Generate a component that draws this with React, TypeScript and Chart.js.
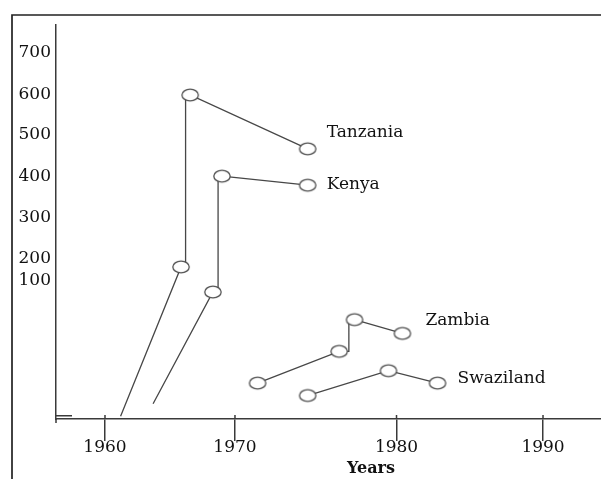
import React, { useEffect, useRef } from 'react';
import { Chart, registerables, LinearScale } from 'chart.js';

// ---------------- data ----------------
const xTickYears = [1960, 1970, 1980, 1990];
const yTickValues = [100, 200, 300, 400, 500, 600, 700];

const seriesNames = ['Tanzania', 'Kenya', 'Zambia', 'Swaziland'];

const tanzaniaYears = [1961.2, 1965.85, 1966.2, 1966.2, 1966.55, 1974.5];
const tanzaniaValues = [2, 164, 164, 600, 600, 467];
const tanzaniaMarkers = [false, true, false, false, true, true];

const kenyaYears = [1963.7, 1968.3, 1968.7, 1968.7, 1969.0, 1974.5];
const kenyaValues = [11, 92, 92, 402, 402, 380];
const kenyaMarkers = [false, true, false, false, true, true];

const zambiaYears = [1971.4, 1976.45, 1977.05, 1977.05, 1977.4, 1980.4];
const zambiaValues = [26, 49, 49, 72, 72, 62];
const zambiaMarkers = [true, true, false, false, true, true];

const swazilandYears = [1974.5, 1979.5, 1982.8];
const swazilandValues = [17, 35, 26];
const swazilandMarkers = [true, true, true];

// ---------------- layout / style ----------------
// piecewise axis mapping: [value, fraction along axis]
const AXIS_BREAKS: Record<string, number[][]> = {
  x: [[1956.23, 0], [1960, 0.0899], [1970, 0.3284], [1980, 0.6248], [1990, 0.8936], [1993.96, 1]],
  y: [[0, 0], [100, 0.3503], [200, 0.4061], [300, 0.5102], [400, 0.6142], [500, 0.7208], [600, 0.8223], [700, 0.9289], [767, 1]],
};
const LABEL_OFFSETS = [[19, -12], [19, 4], [23, -8], [20, 0]];
const FONT_FAMILY = '"DejaVu Serif", "Liberation Serif", serif';
const AXIS_COLOR = '#3a3a3a';
const LINE_COLOR = '#474747';
const TEXT_COLOR = '#111';

function toDecimal(b: number[][], v: number): number {
  let i = 0;
  while (i < b.length - 2 && v > b[i + 1][0]) i++;
  const [v0, f0] = b[i];
  const [v1, f1] = b[i + 1];
  return f0 + ((v - v0) / (v1 - v0)) * (f1 - f0);
}
function fromDecimal(b: number[][], d: number): number {
  let i = 0;
  while (i < b.length - 2 && d > b[i + 1][1]) i++;
  const [v0, f0] = b[i];
  const [v1, f1] = b[i + 1];
  return v0 + ((d - f0) / (f1 - f0)) * (v1 - v0);
}

class PiecewiseScale extends LinearScale {
  static id = 'piecewise';
  getPixelForValue(value: any) {
    if (value === null || value === undefined || isNaN(value)) return NaN;
    return (this as any).getPixelForDecimal(toDecimal(AXIS_BREAKS[(this as any).id], value));
  }
  getValueForPixel(pixel: number) {
    return fromDecimal(AXIS_BREAKS[(this as any).id], (this as any).getDecimalForPixel(pixel));
  }
}

Chart.register(...registerables, PiecewiseScale as any);

function makeMarker(): HTMLCanvasElement {
  const c = document.createElement('canvas');
  c.width = 20;
  c.height = 16;
  const g = c.getContext('2d')!;
  g.beginPath();
  g.ellipse(10, 8, 8.2, 5.8, 0, 0, Math.PI * 2);
  g.fillStyle = '#fff';
  g.fill();
  g.lineWidth = 1.3;
  g.strokeStyle = '#505050';
  g.stroke();
  return c;
}

const decorPlugin = {
  id: 'decor',
  afterDraw(chart: any) {
    const ctx = chart.ctx as CanvasRenderingContext2D;
    const a = chart.chartArea;
    const xs = chart.scales.x;
    ctx.save();
    // outer frame (top and left)
    ctx.strokeStyle = '#222';
    ctx.lineWidth = 1.7;
    ctx.beginPath();
    ctx.moveTo(12, 479);
    ctx.lineTo(12, 15);
    ctx.lineTo(601, 15);
    ctx.stroke();
    // axis details
    ctx.strokeStyle = AXIS_COLOR;
    ctx.lineWidth = 1.5;
    ctx.beginPath();
    ctx.moveTo(a.left, a.bottom);
    ctx.lineTo(a.left, a.bottom + 4);
    ctx.moveTo(a.left, a.bottom - 3.3);
    ctx.lineTo(a.left + 16, a.bottom - 3.3);
    xTickYears.forEach((yr) => {
      const px = xs.getPixelForValue(yr);
      ctx.moveTo(px, a.bottom - 4);
      ctx.lineTo(px, a.bottom);
    });
    ctx.stroke();
    // series labels
    ctx.fillStyle = TEXT_COLOR;
    ctx.font = '17px ' + FONT_FAMILY;
    ctx.textAlign = 'left';
    ctx.textBaseline = 'alphabetic';
    chart.data.datasets.forEach((ds: any, i: number) => {
      const meta = chart.getDatasetMeta(i);
      const last = meta.data[meta.data.length - 1];
      ctx.fillText(ds.label, last.x + LABEL_OFFSETS[i][0], last.y + LABEL_OFFSETS[i][1]);
    });
    // axis title
    ctx.font = 'bold 16px ' + FONT_FAMILY;
    ctx.textAlign = 'center';
    ctx.fillText('Years', 371, 473);
    ctx.restore();
  },
};

export default function App() {
  const ref = useRef<HTMLCanvasElement>(null);
  useEffect(() => {
    const canvas = ref.current;
    if (!canvas) return;
    const marker = makeMarker();
    const series = [
      { years: tanzaniaYears, values: tanzaniaValues, markers: tanzaniaMarkers },
      { years: kenyaYears, values: kenyaValues, markers: kenyaMarkers },
      { years: zambiaYears, values: zambiaValues, markers: zambiaMarkers },
      { years: swazilandYears, values: swazilandValues, markers: swazilandMarkers },
    ];
    const datasets = series.map((s, i) => ({
      label: seriesNames[i],
      data: s.years.map((x, j) => ({ x, y: s.values[j] })),
      showLine: true,
      borderColor: LINE_COLOR,
      borderWidth: 1.3,
      backgroundColor: '#fff',
      pointStyle: marker as any,
      pointRadius: s.markers.map((m) => (m ? 8 : 0)),
      pointHoverRadius: s.markers.map((m) => (m ? 8 : 0)),
      tension: 0,
      clip: false as any,
    }));
    const chart = new Chart(canvas, {
      type: 'scatter',
      data: { datasets },
      options: {
        animation: false,
        responsive: false,
        devicePixelRatio: 1,
        events: [],
        layout: { autoPadding: false, padding: { top: 25, left: 0, right: 0, bottom: 0 } },
        plugins: { legend: { display: false }, tooltip: { enabled: false } },
        scales: {
          x: {
            type: 'piecewise' as any,
            position: 'bottom',
            min: 1956.23,
            max: 1993.96,
            afterBuildTicks: (s: any) => {
              s.ticks = xTickYears.map((value) => ({ value }));
            },
            afterFit: (s: any) => {
              s.height = 60;
              s.paddingLeft = 0;
              s.paddingRight = 0;
              s.paddingTop = 0;
              s.paddingBottom = 0;
            },
            grid: {
              display: true,
              drawOnChartArea: false,
              drawTicks: true,
              tickLength: 22,
              color: AXIS_COLOR,
              lineWidth: 1.5,
            },
            border: { display: true, color: AXIS_COLOR, width: 1.5 },
            ticks: {
              padding: -4,
              color: TEXT_COLOR,
              font: { family: FONT_FAMILY, size: 17 },
              autoSkip: false,
              maxRotation: 0,
              callback: (v: any) => String(v),
            },
          } as any,
          y: {
            type: 'piecewise' as any,
            position: 'left',
            min: 0,
            max: 767,
            afterBuildTicks: (s: any) => {
              s.ticks = yTickValues.map((value) => ({ value }));
            },
            afterFit: (s: any) => {
              s.width = 56;
              s.paddingLeft = 0;
              s.paddingRight = 0;
              s.paddingTop = 0;
              s.paddingBottom = 0;
            },
            grid: { display: false, drawTicks: false },
            border: { display: true, color: AXIS_COLOR, width: 1.5 },
            ticks: {
              padding: 5,
              color: TEXT_COLOR,
              font: { family: FONT_FAMILY, size: 17 },
              autoSkip: false,
              callback: (v: any) => String(v),
            },
          } as any,
        },
      },
      plugins: [decorPlugin],
    });
    return () => chart.destroy();
  }, []);
  return (
    <div style={{ position: 'fixed', left: 0, top: 0, width: 601, height: 479, background: '#fff' }}>
      <canvas ref={ref} width={601} height={479} style={{ display: 'block', width: 601, height: 479 }} />
    </div>
  );
}
